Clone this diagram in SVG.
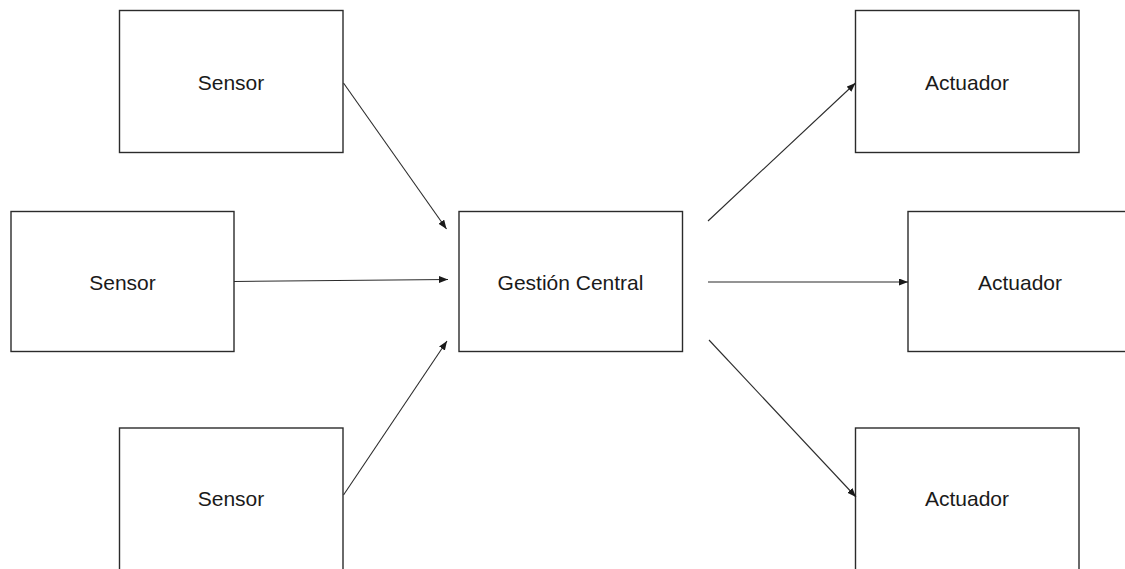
<svg xmlns="http://www.w3.org/2000/svg" width="1125" height="569" viewBox="0 0 1125 569">
  <style>
    .box { fill: #ffffff; stroke: #2b2b2b; stroke-width: 1.4; }
    .lbl { font-family: "Liberation Sans", Arial, sans-serif; font-size: 21px; fill: #1a1a1a; text-anchor: middle; }
    .conn { stroke: #2b2b2b; stroke-width: 1.1; fill: none; marker-end: url(#arrow); }
  </style>
  <defs>
    <marker id="arrow" markerUnits="userSpaceOnUse" markerWidth="10" markerHeight="8" refX="9" refY="3.5" orient="auto">
      <path d="M0,0 L9,3.5 L0,7 z" fill="#1a1a1a"/>
    </marker>
  </defs>
  <rect width="1125" height="569" fill="#ffffff"/>

  <g id="sensor-top">
    <rect class="box" x="119.5" y="10.5" width="223.5" height="142"/>
    <text class="lbl" x="231" y="90">Sensor</text>
  </g>
  <g id="sensor-middle">
    <rect class="box" x="11" y="211.5" width="223" height="140"/>
    <text class="lbl" x="122.5" y="290">Sensor</text>
  </g>
  <g id="sensor-bottom">
    <rect class="box" x="119.5" y="428" width="223.5" height="142"/>
    <text class="lbl" x="231" y="506">Sensor</text>
  </g>
  <g id="central">
    <rect class="box" x="459" y="211.5" width="223.5" height="140"/>
    <text class="lbl" x="570.5" y="290">Gestión Central</text>
  </g>
  <g id="actuator-top">
    <rect class="box" x="855.5" y="10.5" width="223.5" height="142"/>
    <text class="lbl" x="967" y="90">Actuador</text>
  </g>
  <g id="actuator-middle">
    <rect class="box" x="908" y="211.5" width="224" height="140"/>
    <text class="lbl" x="1020" y="290">Actuador</text>
  </g>
  <g id="actuator-bottom">
    <rect class="box" x="855.5" y="428" width="223.5" height="142"/>
    <text class="lbl" x="967" y="506">Actuador</text>
  </g>

  <g id="connectors">
    <line class="conn" x1="343.5" y1="83" x2="446.5" y2="229"/>
    <line class="conn" x1="234" y1="281.5" x2="448" y2="279.5"/>
    <line class="conn" x1="343.5" y1="495" x2="447" y2="341"/>
    <line class="conn" x1="708" y1="221" x2="855.5" y2="83"/>
    <line class="conn" x1="708" y1="282" x2="908" y2="282"/>
    <line class="conn" x1="709" y1="340" x2="856" y2="497"/>
  </g>
</svg>
